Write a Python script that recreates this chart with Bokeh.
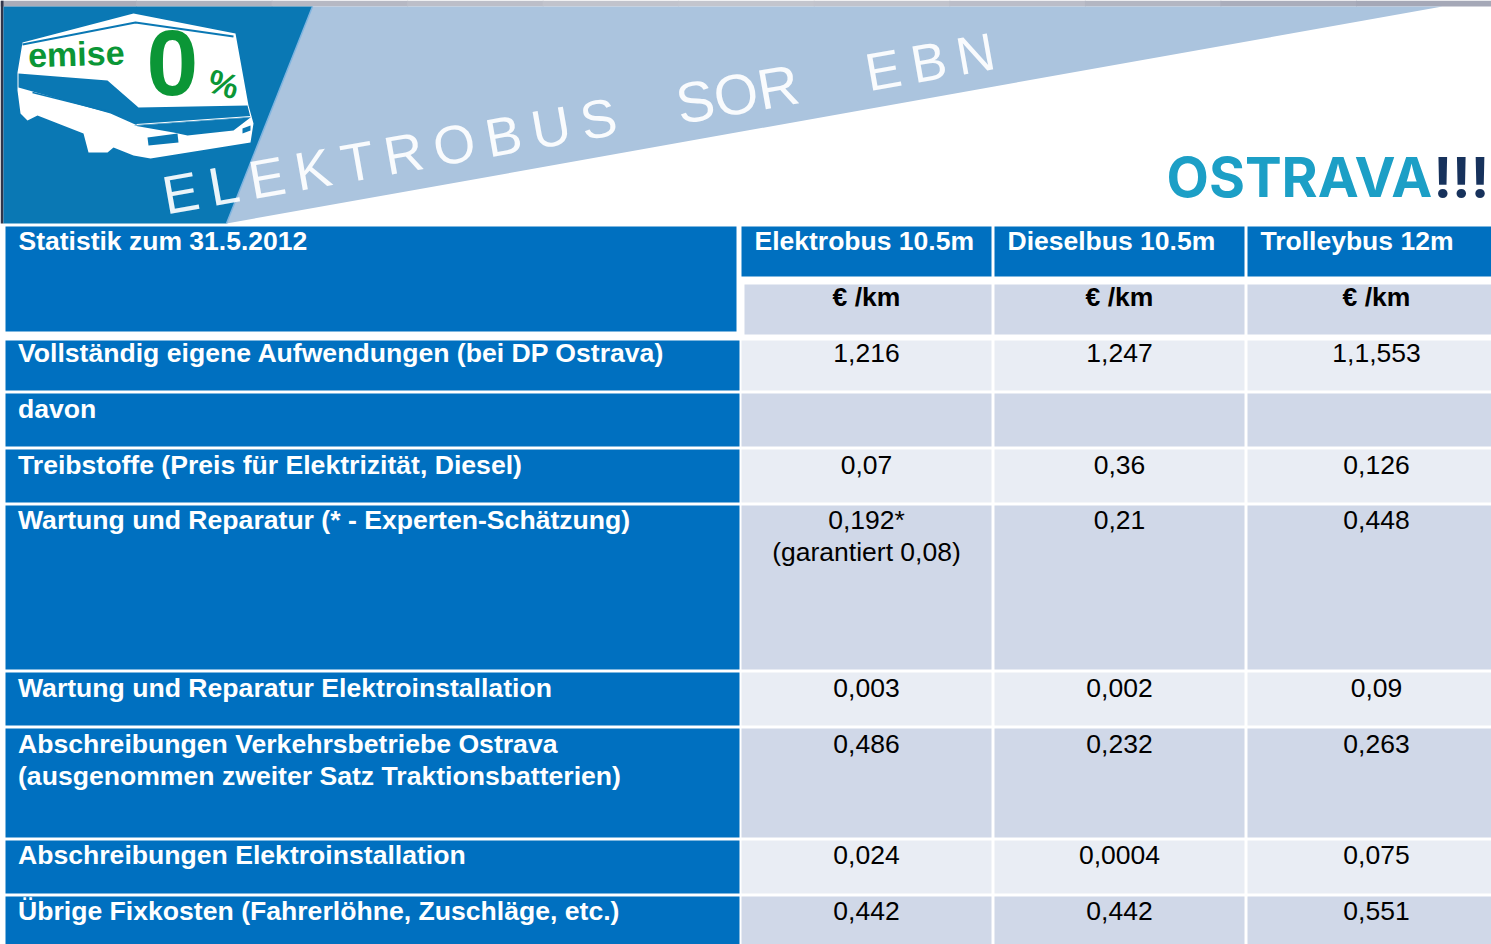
import math
from bokeh.plotting import figure
from bokeh.core.properties import value
from bokeh.embed import file_html
from bokeh.resources import INLINE

# ---------- table content ----------
title = "Statistik zum 31.5.2012"
series = ["Elektrobus 10.5m", "Dieselbus 10.5m", "Trolleybus 12m"]
unit = "€ /km"
categories = [
    ["Vollständig eigene Aufwendungen (bei DP Ostrava)"],
    ["davon"],
    ["Treibstoffe (Preis für Elektrizität, Diesel)"],
    ["Wartung und Reparatur (* - Experten-Schätzung)"],
    ["Wartung und Reparatur Elektroinstallation"],
    ["Abschreibungen Verkehrsbetriebe Ostrava", "(ausgenommen zweiter Satz Traktionsbatterien)"],
    ["Abschreibungen Elektroinstallation"],
    ["Übrige Fixkosten (Fahrerlöhne, Zuschläge, etc.)"],
]
elektrobus = [["1,216"], [""], ["0,07"], ["0,192*", "(garantiert 0,08)"], ["0,003"], ["0,486"], ["0,024"], ["0,442"]]
dieselbus = [["1,247"], [""], ["0,36"], ["0,21"], ["0,002"], ["0,232"], ["0,0004"], ["0,442"]]
trolleybus = [["1,1,553"], [""], ["0,126"], ["0,448"], ["0,09"], ["0,263"], ["0,075"], ["0,551"]]
banner_words = ["E\u2009L\u2009E\u2009K\u2009T\u2009R\u2009O\u2009B\u2009U\u2009S", "SOR", "E\u2009B\u2009N"]

# ---------- layout (pixels of the page) ----------
W, H = 1491, 944
row_top = [340, 393, 449, 505, 672, 728, 840, 896]
row_bot = [390, 446, 502, 669, 725, 837, 893, 944]
row_base = [363, 419, 475, 530, 698, 754, 865, 921]
col_left = [741, 994, 1247]
col_right = [991, 1244, 1491]
col_center = [866, 1119, 1376]
head_text_x = [755, 1008, 1261]
FS = 26.5
BLUE, LIGHT, DARK = "#0070C0", "#E9EDF4", "#D0D8E8"

p = figure(width=W, height=H, x_range=(0, W), y_range=(H, 0), output_backend="svg",
           toolbar_location=None, min_border=0, outline_line_color=None,
           background_fill_color="white", border_fill_color="white")
p.axis.visible = False
p.grid.visible = False

def poly(xs, ys, color, alpha=1.0):
    p.patch(xs, ys, fill_color=color, line_color=None, fill_alpha=alpha)

def label(x, y, s, size, color="black", bold=False, align="left", angle=0.0, alpha=1.0, font="Liberation Sans"):
    # (x, y) is the wanted baseline start; the drawn baseline sits 0.39 em under the anchor
    d = 0.39 * size
    p.text([x - d * math.sin(angle)], [y - d * math.cos(angle)], text=[s], text_font=value(font),
           text_font_size=f"{size}px", text_color=color,
           text_font_style="bold" if bold else "normal", text_align=align,
           text_baseline="alphabetic", angle=angle, text_alpha=alpha)

# ---------- banner ----------
top_colors = ["#A9ACB9", "#AFB2BE", "#B6B8C3", "#BCBEC8", "#C1C3CC", "#C3C5CD", "#C1C3CC",
              "#BBBDC8", "#B3B6C2", "#AAADBB", "#A5A8B7"]
n = len(top_colors)
p.quad(left=[i * W / n for i in range(n)], right=[(i + 1) * W / n + 1 for i in range(n)],
       top=[0] * n, bottom=[6] * n, fill_color=top_colors, line_color=None)
p.quad(left=[0], right=[3], top=[0], bottom=[223], fill_color="#30354A", line_color=None)
poly([3, 312, 226, 3], [6, 6, 223, 223], "#0A78B4")
poly([312, 1442, 226], [6, 6, 223], "#ABC4DE")
p.line([312, 226], [6, 223], line_color="#7FB4E0", line_width=1.5)

# bus
poly([22, 133, 235, 248, 253, 250, 150, 133, 113, 107, 88, 83, 37, 27, 20, 17, 17],
     [42, 13, 33, 105, 123, 142, 158, 155, 147, 152, 152, 133, 115, 120, 113, 90, 72], "white")
p.line([22, 135, 233], [44, 22, 36], line_color="#0A78B4", line_width=2)
poly([18, 107, 138, 247, 250, 137, 110, 18], [73, 80, 107, 105, 117, 125, 113, 87], "#0A78B4")
p.line([32, 108], [92, 111], line_color="#0A78B4", line_width=1.5)
poly([133, 173, 187, 233, 250, 137], [125, 132, 135, 130, 117, 125], "#0A78B4")
p.line([136, 250], [124, 116], line_color="white", line_width=1)
poly([147, 177, 178, 148], [137, 133, 142, 145], "#0A78B4")
poly([242, 250, 250, 242], [128, 125, 130, 133], "#0A78B4")

GREEN = "#0B9636"
label(28, 68, "emise", 34, GREEN, bold=True, angle=0.03)
label(146, 99, "0", 93, GREEN, bold=True)
label(205, 92, "%", 34, GREEN, bold=True, angle=-0.28)

# diagonal white banner text
rot = 0.175
for s, x, y, size in zip(banner_words, [166, 680, 869], [216, 126, 93], [54, 57, 53]):
    label(x, y, s, size, "white", angle=rot, alpha=0.92)

label(1166, 198, "OSTRAVA", 55, "#1C9FC6", bold=True, font="Inter")
label(1433, 198, "!!!", 55, "#17325C", bold=True, font="Inter")

# ---------- table ----------
# head
p.quad(left=[5], right=[736], top=[226], bottom=[331], fill_color=BLUE, line_color=None)
p.quad(left=col_left, right=col_right, top=[226] * 3, bottom=[276] * 3, fill_color=BLUE, line_color=None)
p.quad(left=[744, 994, 1247], right=col_right, top=[284] * 3, bottom=[334] * 3, fill_color=DARK, line_color=None)
label(18, 250.5, title, FS, "white", bold=True)
for x, s in zip(head_text_x, series):
    label(x - 1, 250.5, s, FS, "white", bold=True)
for x in col_center:
    label(x, 306.5, unit, FS, "black", bold=True, align="center")

# body
n_rows = len(categories)
p.quad(left=[5] * n_rows, right=[739] * n_rows, top=row_top, bottom=row_bot, fill_color=BLUE, line_color=None)
for c in range(3):
    p.quad(left=[col_left[c]] * n_rows, right=[col_right[c]] * n_rows, top=row_top, bottom=row_bot,
           fill_color=[LIGHT if i % 2 == 0 else DARK for i in range(n_rows)], line_color=None)

LINE = 32
for i in range(n_rows):
    for k, s in enumerate(categories[i]):
        label(17.5, row_base[i] + k * LINE, s, 26.6, "white", bold=True)
    for c, col in enumerate([elektrobus, dieselbus, trolleybus]):
        for k, s in enumerate(col[i]):
            if s:
                label(col_center[c], row_base[i] + k * LINE, s, FS, "black", align="center")

open("out.html", "w").write(file_html(p, INLINE))
